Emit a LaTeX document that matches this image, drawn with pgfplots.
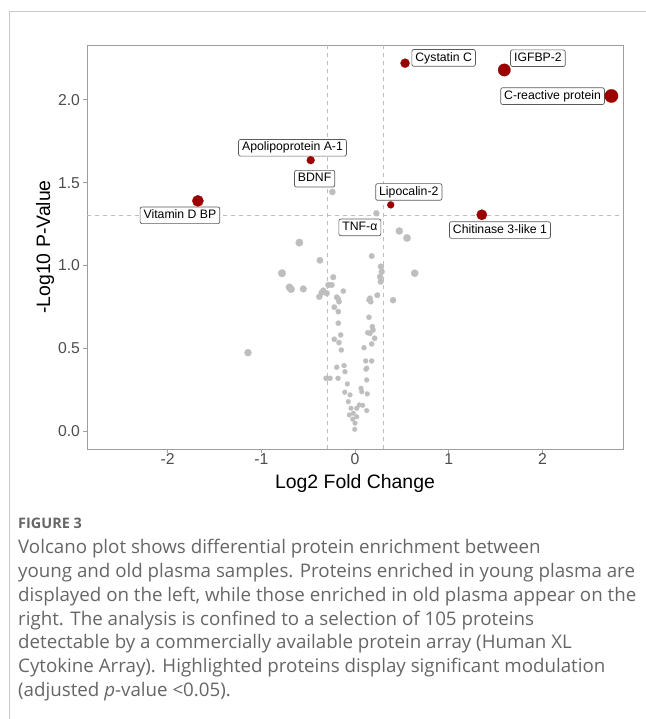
\documentclass[border=0pt]{standalone}
\usepackage{pgfplots}
\pgfplotsset{compat=1.18}
\usepackage{fontspec}
\setmainfont{Liberation Sans}
\newfontfamily\capfont{Open Sans}
\definecolor{sig}{HTML}{9B0000}
\definecolor{ns}{HTML}{BEBEBE}
\definecolor{axframe}{HTML}{9E9E9E}
\definecolor{outframe}{HTML}{C8C8C8}
\definecolor{refline}{HTML}{BDBDBD}
\definecolor{ticktxt}{HTML}{4D4D4D}
\definecolor{captxt}{HTML}{666666}
\definecolor{boxline}{HTML}{5A5A5A}

\pgfplotstableread{
x y
-0.594 1.138
-0.374 1.031
-0.779 0.953
-0.700 0.868
-0.682 0.856
-0.552 0.858
-0.232 0.929
-0.285 0.882
-0.249 0.882
-0.338 0.848
-0.302 0.832
-0.381 0.811
-0.355 0.836
-0.125 0.845
-0.178 0.797
-0.171 0.781
-0.195 0.808
-0.221 0.748
-0.178 0.721
-0.178 0.651
-0.153 0.580
-0.221 0.554
-0.171 0.534
-0.146 0.489
-0.195 0.385
-0.117 0.395
-0.107 0.358
-0.309 0.318
-0.267 0.318
-0.181 0.318
-0.082 0.284
-0.110 0.234
-0.053 0.218
-0.072 0.177
-0.043 0.137
-0.061 0.097
-0.018 0.107
0.018 0.137
-0.025 0.071
0.000 0.047
-0.003 0.010
0.018 0.086
0.178 1.057
0.277 0.993
0.285 0.962
0.267 0.932
0.274 0.902
0.238 0.820
0.160 0.802
0.168 0.781
0.149 0.792
0.149 0.687
0.185 0.630
0.192 0.610
0.136 0.594
0.160 0.590
0.210 0.560
0.178 0.526
0.096 0.503
0.114 0.423
0.178 0.423
0.117 0.373
0.125 0.379
0.125 0.308
0.064 0.258
0.072 0.237
0.131 0.224
0.046 0.157
0.082 0.155
0.125 0.123
0.473 1.208
0.555 1.166
0.637 0.953
0.406 0.790
-1.142 0.473
-0.242 1.444
0.228 1.315
}\nsdata

\pgfplotstableread{
x y
0.534 2.222
1.593 2.181
2.736 2.024
-0.473 1.636
0.381 1.366
-1.677 1.390
1.353 1.306
}\sigdata

\begin{document}
\begin{tikzpicture}[x=1bp,y=1bp]
\path[use as bounding box] (0,0) rectangle (646,719);
\draw[outframe, line width=1bp] (9.5,0) -- (9.5,707.5) -- (646,707.5);

\begin{axis}[
  at={(87bp,270bp)}, anchor=south west,
  scale only axis, width=536bp, height=404bp,
  xmin=-2.86, xmax=2.86, ymin=-0.109, ymax=2.332,
  axis line style={axframe, line width=0.9bp},
  tick style={axframe, line width=0.9bp},
  tick align=outside, tick pos=left,
  major tick length=4bp,
  xtick={-2,-1,0,1,2}, ytick={0,0.5,1,1.5,2},
  /pgf/number format/assume math mode=true,
  ticklabel style={font=\fontsize{15.8}{15.8}\selectfont, text=ticktxt},
  yticklabel style={/pgf/number format/.cd, fixed, fixed zerofill, precision=1, /tikz/.cd, xshift=0.5bp},
  xticklabel style={yshift=3bp},
]
\draw[refline, line width=0.7bp, dash pattern=on 4bp off 4bp] (axis cs:-0.3,-0.109) -- (axis cs:-0.3,2.332);
\draw[refline, line width=0.7bp, dash pattern=on 4bp off 4bp] (axis cs:0.3,-0.109) -- (axis cs:0.3,2.332);
\draw[refline, line width=0.7bp, dash pattern=on 4bp off 4bp] (axis cs:-2.86,1.301) -- (axis cs:2.86,1.301);

\addplot[scatter, only marks, mark=*,
  mark options={line width=0.2bp},
  scatter/use mapped color={draw=ns, fill=ns},
  visualization depends on={(4.8+9*(1-exp(-abs(\thisrow{x})*\thisrow{y}/1.8)))/2 \as \msize},
  scatter/@pre marker code/.append style={/tikz/mark size=\msize},
] table[x=x, y=y] {\nsdata};

\addplot[scatter, only marks, mark=*,
  mark options={line width=0.2bp},
  scatter/use mapped color={draw=sig, fill=sig},
  visualization depends on={(4.8+9*(1-exp(-abs(\thisrow{x})*\thisrow{y}/1.8)))/2 \as \msize},
  scatter/@pre marker code/.append style={/tikz/mark size=\msize},
] table[x=x, y=y] {\sigdata};

\tikzset{lab/.style={draw=boxline, line width=0.7bp, fill=white, rounded corners=2bp,
  font=\fontsize{12.3}{12.3}\selectfont, inner xsep=3.5bp, inner ysep=2.6bp,
  text height=8.9bp, text depth=2.6bp}}
\node[lab] at (axis cs:0.946,2.254) {Cystatin C};
\node[lab] at (axis cs:1.952,2.252) {IGFBP-2};
\node[lab] at (axis cs:2.108,2.023) {C-reactive protein};
\node[lab] at (axis cs:-0.667,1.711) {Apolipoprotein A-1};
\node[lab] at (axis cs:-0.431,1.524) {BDNF};
\node[lab] at (axis cs:0.574,1.444) {Lipocalin-2};
\node[lab] at (axis cs:-1.868,1.303) {Vitamin D BP};
\node[lab] at (axis cs:0.052,1.230) {TNF-α};
\node[lab] at (axis cs:1.547,1.214) {Chitinase 3-like 1};
\end{axis}

\node[anchor=base, font=\fontsize{19.5}{19.5}\selectfont] at (355,719-489) {Log2 Fold Change};
\node[anchor=base, rotate=90, font=\fontsize{19.5}{19.5}\selectfont] at (50,719-247) {-Log10 P-Value};

\begin{scope}[every node/.style={anchor=base west, inner sep=0pt, text=captxt, font=\capfont\fontsize{18.8}{18.8}\selectfont}]
\node[font=\capfont\fontsize{14.5}{14.5}\selectfont\bfseries] at (18,719-529) {FIGURE 3};
\node at (18,719-554) {Volcano plot shows differential protein enrichment between};
\node at (18,719-577.7) {young and old plasma samples. Proteins enriched in young plasma are};
\node at (18,719-601.4) {displayed on the left, while those enriched in old plasma appear on the};
\node at (18,719-625.1) {right. The analysis is confined to a selection of 105 proteins};
\node at (18,719-648.8) {detectable by a commercially available protein array (Human XL};
\node at (18,719-672.5) {Cytokine Array). Highlighted proteins display significant modulation};
\node at (18,719-696.2) {(adjusted \textit{p}-value <0.05).};
\end{scope}
\end{tikzpicture}
\end{document}
